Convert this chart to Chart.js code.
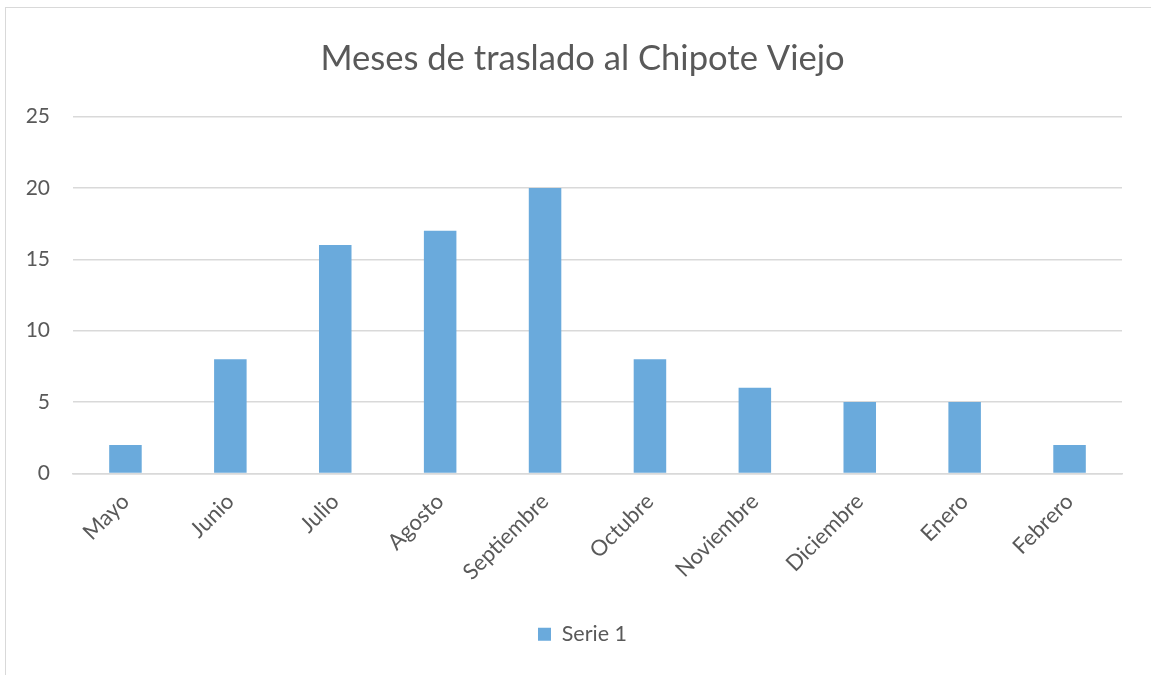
<!DOCTYPE html>
<html>
<head>
<meta charset="utf-8">
<script src="https://cdn.jsdelivr.net/npm/chart.js@4"></script>
<style>
html,body{margin:0;padding:0;background:#fff;overflow:hidden;}
#frame{position:absolute;left:5px;top:7px;width:1200px;height:720px;border-left:1.5px solid #d9d9d9;border-top:1.5px solid #d9d9d9;}
#wrap{position:absolute;left:0;top:0;width:1151px;height:675px;}
</style>
</head>
<body>
<div id="frame"></div>
<div id="wrap"><canvas id="c"></canvas></div>
<script>
const titleText = 'Meses de traslado al Chipote Viejo';
const categories = ['Mayo','Junio','Julio','Agosto','Septiembre','Octubre','Noviembre','Diciembre','Enero','Febrero'];
const seriesName = 'Serie 1';
const serie1 = [2,8,16,17,20,8,6,5,5,2];
const yTicks = [0,5,10,15,20,25];

const FONT = "Lato, 'Open Sans', sans-serif";
const TXT = '#595959';
const GRID = '#d9d9d9';

new Chart(document.getElementById('c'), {
  type: 'bar',
  data: {
    labels: categories,
    datasets: [{
      label: seriesName,
      data: serie1,
      backgroundColor: '#6aaadc',
      borderWidth: 0,
      barPercentage: 0.31,
      categoryPercentage: 1
    }]
  },
  options: {
    responsive: true,
    maintainAspectRatio: false,
    animation: false,
    layout: { padding: { left: 14, right: 0, top: 38, bottom: 20 } },
    plugins: {
      title: {
        display: true,
        text: titleText,
        color: TXT,
        font: { family: FONT, size: 34.6, weight: 'normal' },
        padding: { top: 0, bottom: 37 }
      },
      legend: {
        position: 'bottom',
        labels: {
          color: TXT,
          font: { family: FONT, size: 21.5 },
          boxWidth: 13,
          boxHeight: 13,
          padding: 4
        }
      },
      tooltip: { enabled: false }
    },
    scales: {
      x: {
        grid: { display: false },
        border: { display: true, color: GRID, width: 1.5 },
        ticks: {
          color: TXT,
          font: { family: FONT, size: 22 },
          minRotation: 45,
          maxRotation: 45,
          padding: 7
        },
        afterFit: (s) => { s.height = 146; }
      },
      y: {
        min: 0,
        max: 25,
        afterBuildTicks: (s) => { s.ticks = yTicks.map(v => ({ value: v })); },
        grid: { color: GRID, lineWidth: 1.5, drawTicks: false },
        border: { display: false },
        ticks: {
          color: TXT,
          font: { family: FONT, size: 21 },
          padding: 23
        },
        afterFit: (s) => { s.width = 59; }
      },
      spacer: {
        position: 'right',
        axis: 'y',
        type: 'linear',
        grid: { display: false },
        border: { display: false },
        ticks: { display: false },
        afterFit: (s) => { s.width = 29; }
      }
    }
  }
});
</script>
</body>
</html>
